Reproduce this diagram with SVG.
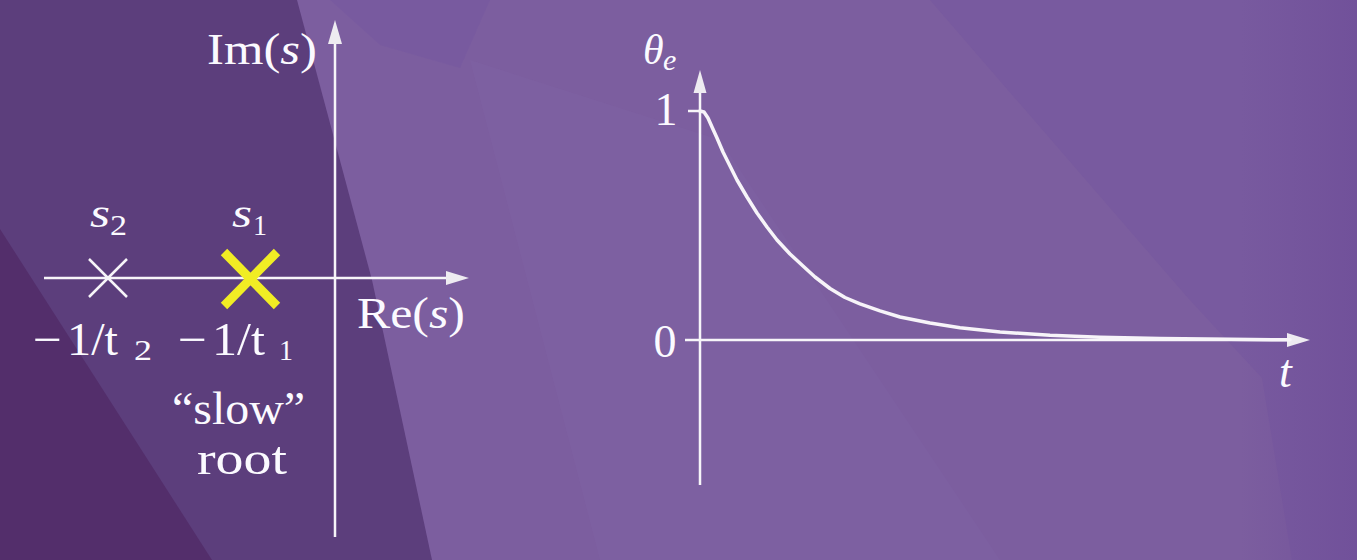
<svg xmlns="http://www.w3.org/2000/svg" width="1357" height="560" viewBox="0 0 1357 560">
<style>
.ax{stroke:#f7f5f9;stroke-width:2.5;fill:none}
.ah{fill:#eeebf1}
.tx{font-family:"Liberation Serif","DejaVu Serif",serif;fill:#fbfaff}
.it{font-style:italic}
</style>
<defs>
<linearGradient id="rg" x1="0" y1="0" x2="1" y2="0">
<stop offset="0" stop-color="#6e4d98" stop-opacity="0"/>
<stop offset="1" stop-color="#6e4d98" stop-opacity="0.7"/>
</linearGradient>
</defs>
<g id="background">
<rect width="1357" height="560" fill="#7c5e9f"/>
<polygon points="470,60 720,140 1000,560 600,560" fill="#8265a5" opacity="0.35"/>
<polygon points="330,0 490,0 460,68 380,45" fill="#7758a0" opacity="0.6"/>
<polygon points="930,0 1357,0 1357,560 1292,560 1262,378 1188,298" fill="#785a9f"/>
<rect x="1240" y="0" width="117" height="560" fill="url(#rg)"/>
<polygon points="0,0 297,0 372,280 432,560 0,560" fill="#5c3e7c"/>
<polygon points="0,229 212,560 0,560" fill="#532e6b"/>
</g>
<g id="connectors">
<line class="ax" x1="44" y1="278" x2="448" y2="278"/>
<polygon class="ah" points="469,278 446,271 446,285"/>
<line class="ax" x1="335" y1="537" x2="335" y2="42"/>
<polygon class="ah" points="335,20 328,44 342,44"/>
<line class="ax" x1="700" y1="485" x2="700" y2="92"/>
<polygon class="ah" points="700,70 693.5,93 706.5,93"/>
<line class="ax" x1="700" y1="340" x2="1289" y2="340"/>
<polygon class="ah" points="1310,340 1287,333 1287,347"/>
<line class="ax" x1="688" y1="111" x2="700" y2="111"/>
<line class="ax" x1="685" y1="340" x2="700" y2="340"/>
<path id="response" d="M700,111 L704,112 L708,118 L712,127 L717,138 L723,152 L730,166 L737,180 L747,197 L757,213 L767,227 L777,240 L790,254 L803,266 L815,277 L830,288.5 L845,297.5 L860,303.8 L880,310.8 L900,317 L930,323 L960,327.7 L1000,332 L1050,335.3 L1100,337.3 L1160,338.6 L1230,339.3 L1290,339.8" fill="none" stroke="#f7f4f9" stroke-width="3.5" stroke-linejoin="round" stroke-linecap="round"/>
</g>
<g id="root-s2">
<path d="M89,259 L127,297 M127,259 L89,297" stroke="#f7f5f9" stroke-width="2.5" fill="none"/>
<text class="tx it" font-size="40" x="90" y="227" textLength="20" lengthAdjust="spacingAndGlyphs">s</text>
<text class="tx" font-size="29" x="110" y="235" textLength="17" lengthAdjust="spacingAndGlyphs">2</text>
<text class="tx" font-size="46" x="33" y="355" textLength="29" lengthAdjust="spacingAndGlyphs">−</text>
<text class="tx" font-size="46" x="67" y="355" textLength="51" lengthAdjust="spacingAndGlyphs">1/t</text>
<text class="tx" font-size="30" x="134" y="360" textLength="18" lengthAdjust="spacingAndGlyphs">2</text>
</g>
<g id="root-s1">
<path d="M224,252 L277,306 M277,252 L224,306" stroke="#f1ed24" stroke-width="9" fill="none"/>
<text class="tx it" font-size="40" x="232" y="227" textLength="20" lengthAdjust="spacingAndGlyphs">s</text>
<text class="tx" font-size="29" x="253" y="235" textLength="14" lengthAdjust="spacingAndGlyphs">1</text>
<text class="tx" font-size="46" x="178" y="355" textLength="29" lengthAdjust="spacingAndGlyphs">−</text>
<text class="tx" font-size="46" x="212" y="355" textLength="53" lengthAdjust="spacingAndGlyphs">1/t</text>
<text class="tx" font-size="30" x="279" y="360" textLength="14" lengthAdjust="spacingAndGlyphs">1</text>
<text class="tx" font-size="46" x="172" y="424" textLength="133" lengthAdjust="spacingAndGlyphs">“slow”</text>
<text class="tx" font-size="46" x="197" y="474" textLength="90" lengthAdjust="spacingAndGlyphs">root</text>
</g>
<g id="labels">
<text class="tx" font-size="45" x="207" y="64" textLength="110" lengthAdjust="spacingAndGlyphs">Im(<tspan class="it">s</tspan>)</text>
<text class="tx" font-size="45" x="357" y="328" textLength="108" lengthAdjust="spacingAndGlyphs">Re(<tspan class="it">s</tspan>)</text>
<text class="tx it" font-size="42" x="643" y="64">θ</text>
<text class="tx it" font-size="30" x="663" y="70">e</text>
<text class="tx" font-size="46" x="666" y="125" text-anchor="middle">1</text>
<text class="tx" font-size="46" x="665" y="357" text-anchor="middle">0</text>
<text class="tx it" font-size="46" x="1279" y="387">t</text>
</g>
</svg>
